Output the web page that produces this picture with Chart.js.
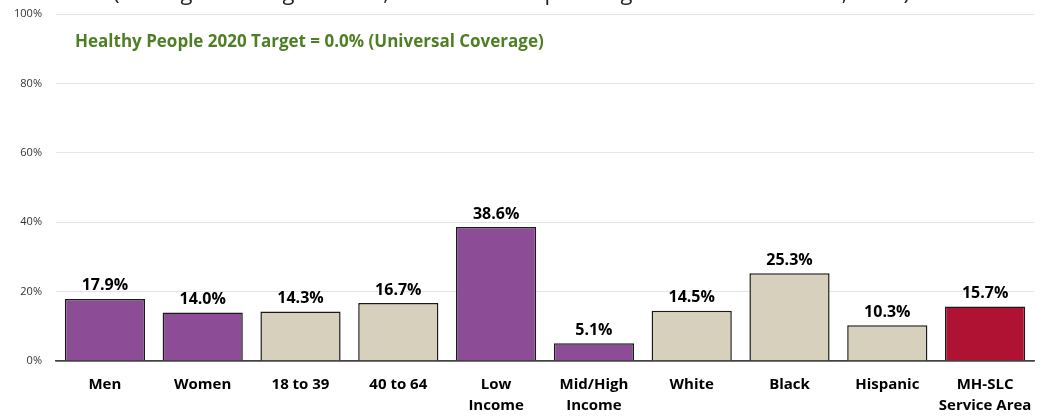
<!DOCTYPE html>
<html>
<head>
<meta charset="utf-8">
<script src="https://cdn.jsdelivr.net/npm/chart.js@4"></script>
<style>
  html, body { margin: 0; padding: 0; background: #fff; }
  #wrap { width: 1047px; height: 416px; }
</style>
</head>
<body>
<div id="wrap"><canvas id="chart"></canvas></div>
<script>
const categories = ["Men", "Women", "18 to 39", "40 to 64", ["Low", "Income"], ["Mid/High", "Income"], "White", "Black", "Hispanic", ["MH-SLC", "Service Area"]];
const values = [17.9, 14.0, 14.3, 16.7, 38.6, 5.1, 14.5, 25.3, 10.3, 15.7];
const groups = ["sex", "sex", "age", "age", "income", "income", "race", "race", "race", "total"];
const yTicks = [0, 20, 40, 60, 80, 100];
const titleText = "(Among Adults Aged 18-64; Methodist Hospital Sugar Land Service Area, 2017)";
const targetText = "Healthy People 2020 Target = 0.0% (Universal Coverage)";

// colours per group
const groupColors = { sex: "#8c4d96", income: "#8c4d96", age: "#d6d0bc", race: "#d6d0bc", total: "#b01233" };
const barColors = groups.map(g => groupColors[g]);

const FONT = "'Open Sans', 'Noto Sans', sans-serif";

// value labels above bars + header texts
const labelPlugin = {
  id: "labels",
  afterDatasetsDraw(chart) {
    const ctx = chart.ctx;
    const meta = chart.getDatasetMeta(0);
    ctx.save();
    ctx.fillStyle = "#000";
    ctx.font = "bold 16px " + FONT;
    ctx.textAlign = "center";
    ctx.textBaseline = "bottom";
    meta.data.forEach((bar, i) => {
      ctx.fillText(values[i].toFixed(1) + "%", bar.x, bar.y - 5);
    });

    // green target note inside the plot
    ctx.fillStyle = "#4f7f24";
    ctx.font = "bold 17px " + FONT;
    ctx.textAlign = "left";
    ctx.textBaseline = "middle";
    ctx.fillText(targetText, chart.chartArea.left + 19, 42);

    // title, cut off by the top edge
    ctx.fillStyle = "#222";
    ctx.font = "22px " + FONT;
    ctx.textBaseline = "alphabetic";
    ctx.fillText(titleText, 113, 0);
    ctx.restore();
  }
};

new Chart(document.getElementById("chart"), {
  type: "bar",
  data: {
    labels: categories,
    datasets: [{
      data: values,
      backgroundColor: barColors,
      borderColor: "#1a1a1a",
      borderWidth: 1.5,
      barPercentage: 0.82,
      categoryPercentage: 1.0,
    }],
  },
  options: {
    responsive: true,
    maintainAspectRatio: false,
    animation: false,
    layout: { padding: { top: 14, right: 13, left: 0, bottom: 0 } },
    plugins: {
      legend: { display: false },
      tooltip: { enabled: false },
    },
    scales: {
      x: {
        grid: { display: false },
        border: { color: "#444", width: 1.5 },
        afterFit: axis => { axis.height = 55; axis.paddingLeft = 0; axis.paddingRight = 0; },
        ticks: {
          color: "#000",
          font: { family: FONT, size: 15, weight: "bold", lineHeight: 1.4 },
          padding: 5,
          maxRotation: 0,
          autoSkip: false,
        },
      },
      y: {
        min: 0,
        max: 100,
        afterBuildTicks: axis => { axis.ticks = yTicks.map(v => ({ value: v })); },
        afterFit: axis => { axis.width = 56; axis.paddingTop = 0; axis.paddingBottom = 0; },
        border: { display: false },
        grid: {
          color: ctx => ctx.tick.value === 0 ? "#444" : "#e4e4e4",
          lineWidth: ctx => ctx.tick.value === 0 ? 1.5 : 1,
          drawTicks: false,
        },
        ticks: {
          color: "#333",
          font: { family: FONT, size: 11 },
          padding: 14,
          callback: v => v + "%",
        },
      },
    },
  },
  plugins: [labelPlugin],
});
</script>
</body>
</html>
